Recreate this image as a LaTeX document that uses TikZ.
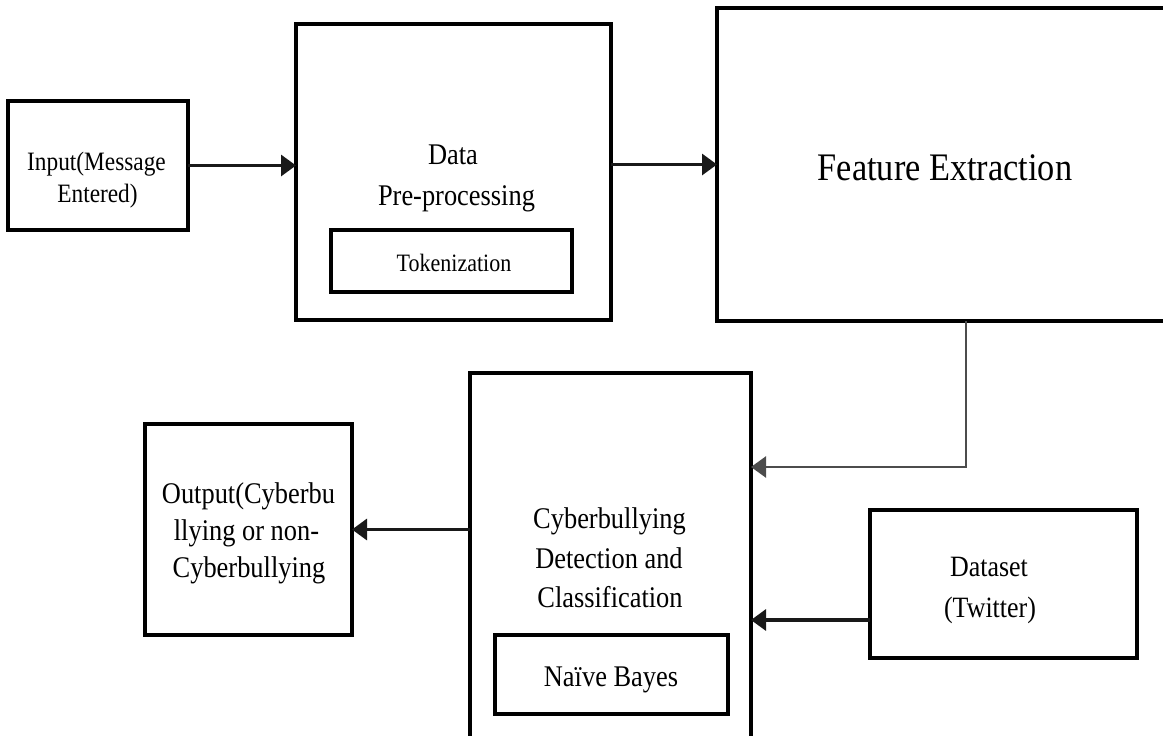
\documentclass[tikz,border=0pt]{standalone}
\usepackage{fontspec}
\setmainfont{Liberation Serif}[FakeStretch=0.88]
\usetikzlibrary{arrows.meta}
\begin{document}
\begin{tikzpicture}[x=1pt,y=-1pt,
  box/.style={draw=black, line width=4pt, rectangle, inner sep=0pt, outer sep=0pt},
  conn/.style={line width=3.2pt, draw=black!90, -{Triangle[length=15pt,width=21pt]}},
  thinconn/.style={line width=2.4pt, draw=black!70, -{Triangle[length=15pt,width=21pt]}},
  lbl/.style={anchor=base, inner sep=0pt, text=black},
  fs/.style={font=\fontsize{#1}{#1}\selectfont}]
\useasboundingbox (0,0) rectangle (1163,736);
\clip (0,0) rectangle (1163,736);

% boxes
\node[box, minimum width=180pt, minimum height=129pt] (input) at (98,165.5) {};
\node[box, minimum width=315pt, minimum height=296pt] (prep) at (453.5,172) {};
\node[box, minimum width=241pt, minimum height=62pt] (tok) at (451.5,261) {};
\node[box, minimum width=463pt, minimum height=313pt] (feat) at (948.5,164.5) {};
\node[box, minimum width=281pt, minimum height=387pt] (cyber) at (610.5,566.5) {};
\node[box, minimum width=233pt, minimum height=79pt] (nb) at (611.5,674.5) {};
\node[box, minimum width=207pt, minimum height=211pt] (output) at (248.5,529.5) {};
\node[box, minimum width=267pt, minimum height=148pt] (dataset) at (1003.5,584) {};

% texts
\node[lbl, fs=26.5] (t-in1) at (96.5,170) {Input(Message};
\node[lbl, fs=26.5] (t-in2) at (97.5,202) {Entered)};
\node[lbl, fs=30] (t-pr1) at (453,164) {Data};
\node[lbl, fs=30] (t-pr2) at (456.5,205) {Pre-processing};
\node[lbl, fs=25] (t-tok) at (454,271) {Tokenization};
\node[lbl, fs=39] (t-feat) at (945,180) {Feature Extraction};
\node[lbl, fs=30] (t-cy1) at (609.5,528) {Cyberbullying};
\node[lbl, fs=30] (t-cy2) at (609,568) {Detection and};
\node[lbl, fs=30] (t-cy3) at (610,607) {Classification};
\node[lbl, fs=30] (t-nb) at (611,686) {Naïve Bayes};
\node[lbl, fs=30] (t-out1) at (248.5,503) {Output(Cyberbu};
\node[lbl, fs=30] (t-out2) at (246.5,540) {llying or non-};
\node[lbl, fs=30] (t-out3) at (249,577) {Cyberbullying};
\node[lbl, fs=29.5] (t-ds1) at (989,576) {Dataset};
\node[lbl, fs=29.5] (t-ds2) at (990,617) {(Twitter)};

% connectors
\draw[conn] (input.east) -- (input.east -| prep.west);
\draw[conn] (feat.west -| prep.east) -- (feat.west);
\coordinate (fc) at (966,467);
\draw[thinconn] (feat.south -| fc) -- (fc) -- (fc -| cyber.east);
\draw[conn] (output.east -| cyber.west) -- (output.east);
\draw[conn] ([yshift=-36pt]dataset.west) -- ([yshift=-36pt]dataset.west -| cyber.east);
\end{tikzpicture}
\end{document}
